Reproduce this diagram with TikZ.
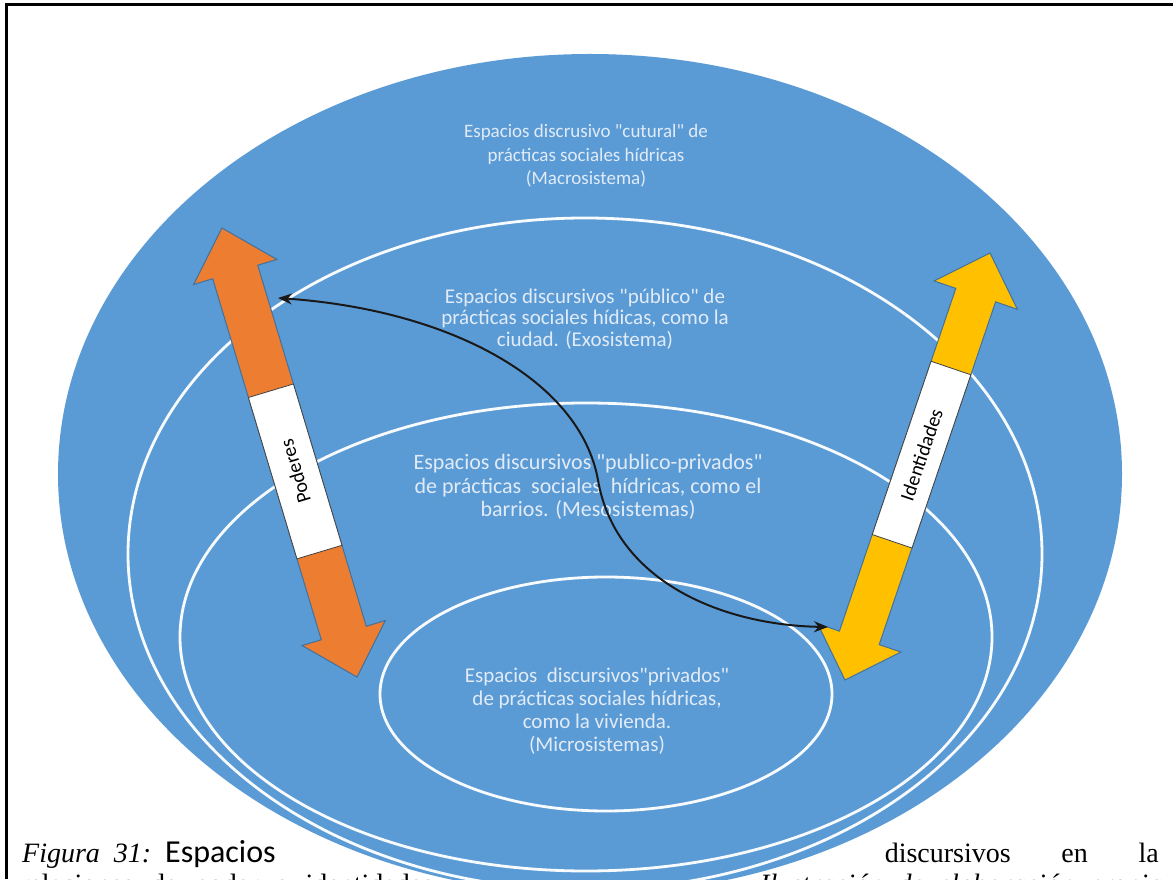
\documentclass[tikz,border=0pt]{standalone}
\usepackage{fontspec}
\setmainfont{Liberation Serif}
\newfontfamily\calibri{Carlito}
\usetikzlibrary{arrows.meta}
\definecolor{eblue}{HTML}{5B9BD5}
\definecolor{eorange}{HTML}{ED7D31}
\definecolor{eyellow}{HTML}{FFC000}
\definecolor{eedge}{HTML}{41719C}
\definecolor{etext}{HTML}{E1EBF7}
\def\dblarrow[#1](#2:#3:#4:#5){\draw[#1] (#2,0) -- ({#2-#5},#4) -- ({#2-#5},#3) -- ({-#2+#5},#3) -- ({-#2+#5},#4) -- (-#2,0) -- ({-#2+#5},-#4) -- ({-#2+#5},-#3) -- ({#2-#5},-#3) -- ({#2-#5},-#4) -- cycle;}
\tikzset{ringtext/.style={align=center, text=etext, inner sep=0pt}, caption/.style={inner sep=0pt, font=\fontsize{28}{30}\selectfont}}

\begin{document}
\begin{tikzpicture}[x=1pt, y=1pt]
		%%%%% START %%%%%
		\useasboundingbox (0,0) rectangle (1173,879);
		\clip (0,0) rectangle (1173,879);
		\fill[white] (0,0) rectangle (1173,879);
		
		\draw[line width=3pt] (6.5,0) -- (6.5,874) -- (1173,874);
		
		\fill[color=eblue] (590,405) ellipse [x radius=532pt, y radius=420pt];
		\draw[line width=2.8pt, color=white!96!eblue] (585,325) ellipse [x radius=457pt, y radius=336pt];
		\draw[line width=2.8pt, color=white!96!eblue] (586,242) ellipse [x radius=406pt, y radius=234pt];
		\draw[line width=2.8pt, color=white!96!eblue] (606,185) ellipse [x radius=226pt, y radius=117pt];
		
		\node[ringtext, font=\calibri\fontsize{19}{23.5}\selectfont] (macroTxt) at (586,723) {Espacios discrusivo "cutural" de\\prácticas sociales hídricas\\(Macrosistema)};
		\node[ringtext, font=\calibri\fontsize{21}{21.5}\selectfont] (exoTxt) at (585,560) {Espacios discursivos "público" de\\prácticas sociales hídicas, como la\\ciudad. (Exosistema)};
		\node[ringtext, font=\calibri\fontsize{22}{23.5}\selectfont] (mesoTxt) at (588,392) {Espacios discursivos "publico-privados"\\de prácticas\ \ sociales\ \ hídricas, como el\\barrios. (Mesosistemas)};
		\node[ringtext, font=\calibri\fontsize{21}{23}\selectfont] (microTxt) at (597,167.5) {Espacios\ \ discursivos"privados"\\de prácticas sociales hídricas,\\como la vivienda.\\(Microsistemas)};
		
		\begin{scope}[shift={(289.5,426.5)}, rotate=106.74]
			\dblarrow[fill=eorange, draw=eedge, line width=1pt](234.5:23.5:43.5:46)
			\draw[fill=white, draw=black!75, line width=0.8pt] (-104,-23.5) rectangle (64.5,23.5);
			\node[transform shape, font=\calibri\fontsize{20}{24}\selectfont] (poderes) at (-19.75,0) {Poderes};
		\end{scope}
		
		\begin{scope}[shift={(917.5,412.5)}, rotate=71.24]
			\dblarrow[fill=eyellow, draw=eedge, line width=1pt](225.5:21:44:44.5)
			\draw[fill=white, draw=black!75, line width=0.8pt] (-79,-21) rectangle (104,21);
			\node[transform shape, font=\calibri\fontsize{20}{24}\selectfont] (identidades) at (12.5,0) {Identidades};
		\end{scope}
		
		\coordinate (powEnd) at (278,581);
		\coordinate (idEnd) at (828,252);
		\draw[line width=2pt, color=black!90, {Stealth[length=14pt,width=11pt]}-{Stealth[length=14pt,width=11pt]}] (powEnd) .. controls (450,569) and (580,499) .. (598,399) .. controls (615,299) and (720,254) .. (idEnd);
		
		\node[caption, anchor=base west] (capFig) at (22,17) {\textit{Figura\hspace{14pt}31:}};
		\node[caption, anchor=base west, font=\calibri\fontsize{32}{34}\selectfont] (capEsp) at (165,17) {Espacios};
		\node[caption, anchor=base east] (capDis) at (1159,17) {\makebox[274pt][s]{discursivos en la}};
		\node[caption, anchor=base west] (capRel) at (20,-14) {\makebox[413pt][s]{relaciones de poder e identidades}};
		\node[caption, anchor=base west] (capIlu) at (760,-14) {\makebox[402pt][s]{\itshape Ilustración de elaboración propia}};
		
		%%%%% END %%%%%
	\end{tikzpicture}
\end{document}
